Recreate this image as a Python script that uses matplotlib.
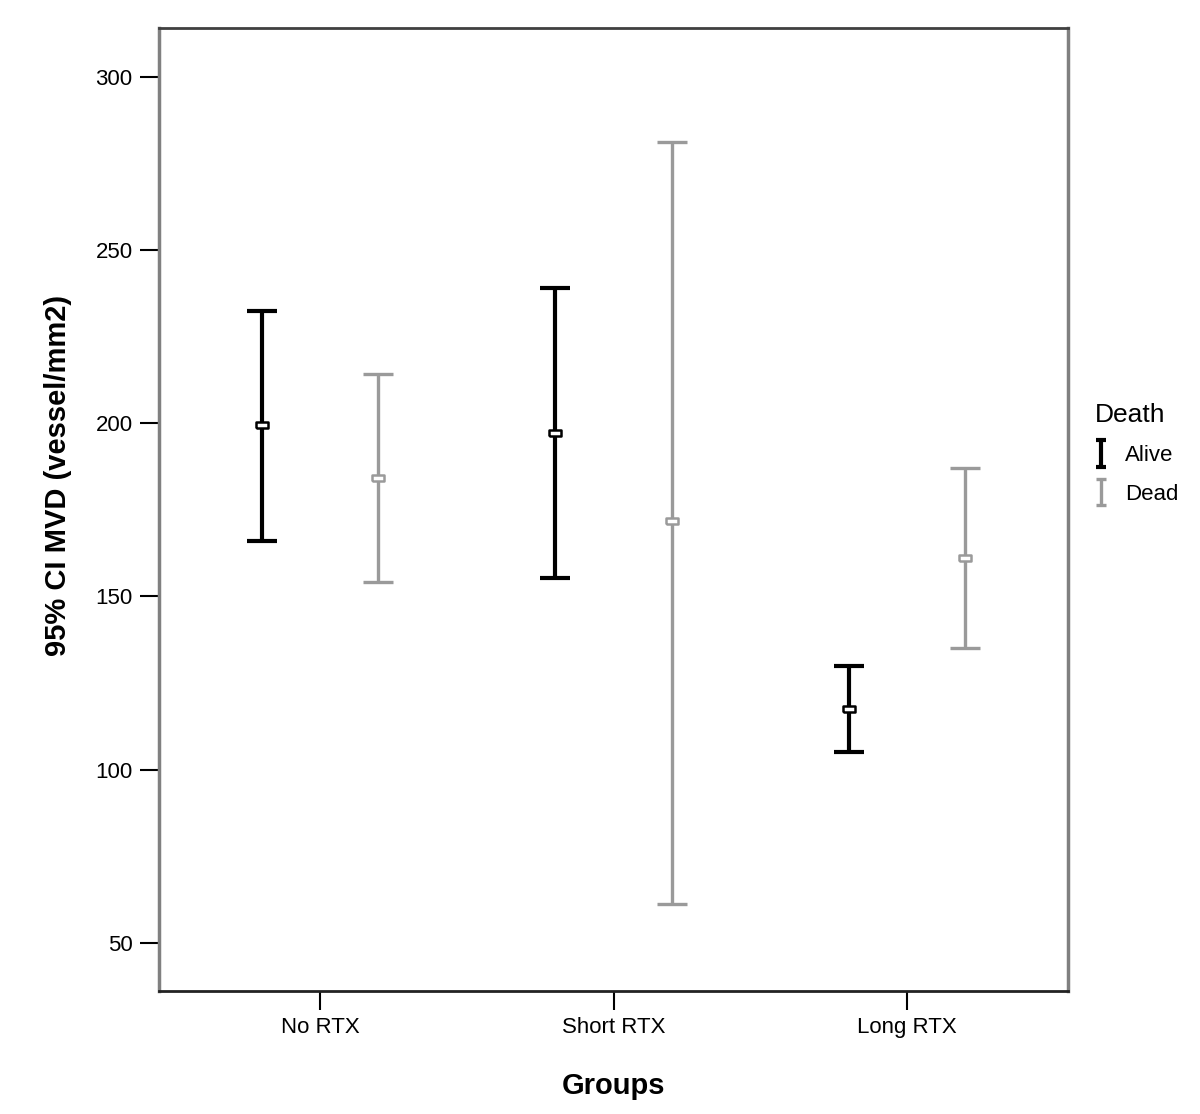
"""
Error bar chart of 95% CI of MVD by treatment group, split by death status.
"""

import matplotlib.pyplot as plt
import numpy as np
from matplotlib.container import ErrorbarContainer
from matplotlib.legend_handler import HandlerErrorbar

# Groups along the x axis
groups = ["No RTX", "Short RTX", "Long RTX"]

# Death status series
status = ["Alive", "Dead"]

# Mean MVD (vessel/mm2) per group
alive_mean = [199.5, 197.2, 117.6]
dead_mean = [184.2, 171.8, 161.1]

# Lower and upper 95% CI bounds per group
alive_lower = [166.0, 155.4, 105.1]
alive_upper = [232.4, 239.1, 130.0]
dead_lower = [154.2, 61.3, 135.2]
dead_upper = [214.3, 281.2, 187.1]

y_ticks = [50, 100, 150, 200, 250, 300]


def main():
    """
    Draw the clustered error bar chart and save it to out.png.
    """
    plt.rcParams["font.family"] = ["Liberation Sans", "DejaVu Sans"]

    fig = plt.figure(figsize=(12, 11.14), dpi=100)
    ax = fig.add_axes([0.1325, 0.1104, 0.7575, 0.8645])

    x = np.arange(len(groups))
    offset = 0.198

    # Flat rectangle used as the mean marker
    rect = [(-1, -0.5), (1, -0.5), (1, 0.5), (-1, 0.5), (-1, -0.5)]

    series = [
        (alive_mean, alive_lower, alive_upper, "#000000", 3.0, -offset),
        (dead_mean, dead_lower, dead_upper, "#9a9a9a", 2.4, offset),
    ]
    handles = []
    for (mean, lower, upper, colour, lw, shift), label in zip(series, status):
        mean = np.array(mean)
        yerr = [mean - np.array(lower), np.array(upper) - mean]
        ax.errorbar(
            x + shift,
            mean,
            yerr=yerr,
            fmt="none",
            ecolor=colour,
            elinewidth=lw,
            capsize=10.5,
            capthick=lw,
        )
        ax.plot(
            x + shift,
            mean,
            linestyle="none",
            marker=rect,
            markersize=8,
            markerfacecolor="white",
            markeredgecolor=colour,
            markeredgewidth=1.8,
            zorder=3,
        )
        # Proxy with narrow caps for the legend symbol
        proxy = ax.errorbar(
            [np.nan],
            [np.nan],
            yerr=[[1], [1]],
            fmt="none",
            ecolor=colour,
            elinewidth=lw,
            capsize=3.5,
            capthick=lw,
            label=label,
        )
        handles.append(proxy)

    ax.set_xlim(-0.55, 2.55)
    ax.set_ylim(36.1, 314.1)
    ax.set_xticks(x)
    ax.set_xticklabels(groups)
    ax.set_yticks(y_ticks)
    ax.tick_params(
        axis="both", direction="out", length=14, width=1.5, labelsize=16, pad=5
    )

    ax.spines["left"].set_color("#808080")
    ax.spines["left"].set_linewidth(2.5)
    ax.spines["right"].set_color("#808080")
    ax.spines["right"].set_linewidth(2.5)
    ax.spines["top"].set_color("#404040")
    ax.spines["top"].set_linewidth(2.0)
    ax.spines["bottom"].set_color("#222222")
    ax.spines["bottom"].set_linewidth(2.0)

    ax.set_xlabel("Groups", fontsize=21, fontweight="bold", labelpad=24)
    ax.set_ylabel("95% CI MVD (vessel/mm2)", fontsize=21, fontweight="bold")
    ax.yaxis.set_label_coords(-0.0956, 0.535)

    legend = fig.legend(
        handles=handles,
        labels=status,
        title="Death",
        loc="upper left",
        bbox_to_anchor=(0.912, 0.638),
        frameon=False,
        fontsize=16,
        title_fontsize=19,
        borderaxespad=0,
        borderpad=0,
        handlelength=0.6,
        handletextpad=0.77,
        labelspacing=0.8,
        handler_map={ErrorbarContainer: HandlerErrorbar(yerr_size=0.6)},
    )
    legend._legend_box.align = "left"

    plt.savefig("out.png", dpi=100)


if __name__ == "__main__":
    main()
